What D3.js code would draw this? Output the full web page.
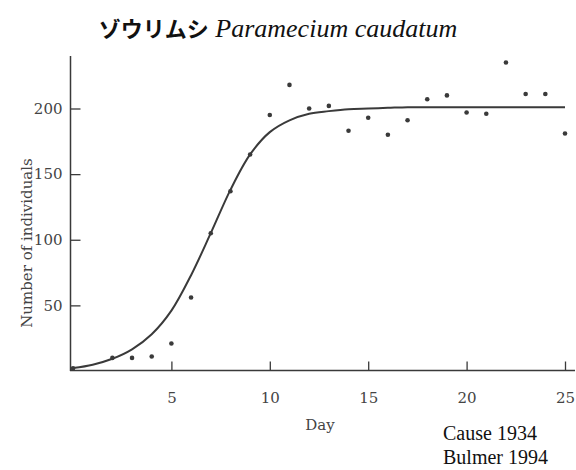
<!DOCTYPE html>
<html>
<head>
<meta charset="utf-8">
<script src="https://cdn.jsdelivr.net/npm/d3@7"></script>
<style>
  body { margin: 0; background: #fff; }
  svg { display: block; }
</style>
</head>
<body>
<svg width="576" height="470"></svg>
<script>
// observed counts (Gause 1934)
const obsDays = [0, 2, 3, 4, 5, 6, 7, 8, 9, 10, 11, 12, 13, 14, 15, 16, 17, 18, 19, 20, 21, 22, 23, 24, 25];
const obsCounts = [2, 10, 10, 11, 21, 56, 105, 137, 165, 195, 218, 200, 202, 183, 193, 180, 191, 207, 210, 197, 196, 235, 211, 211, 181];

// fitted logistic curve
const fitDays = [0, 1, 2, 3, 4, 5, 6, 7, 8, 9, 10, 11, 12, 13, 14, 15, 16, 17, 18, 19, 20, 21, 22, 23, 24, 25];
const fitCounts = [2.2, 4.8, 9.3, 16.5, 28, 46, 73, 105, 138, 165, 182, 191, 196, 198, 199.5, 200, 200.5, 201, 201, 201, 201, 201, 201, 201, 201, 201];

const xTicks = [5, 10, 15, 20, 25];
const yTicks = [50, 100, 150, 200];

const ink = '#3a3a3a';
const serif = '"DejaVu Serif", serif';

const svg = d3.select('svg');

const x = d3.scaleLinear().domain([0, 25]).range([73, 565]);
const y = d3.scaleLinear().domain([0, 200]).range([371, 108.5]);

// title
const title = svg.append('text')
    .attr('x', 278)
    .attr('y', 37)
    .attr('text-anchor', 'middle')
    .attr('fill', '#111');
title.append('tspan')
    .attr('font-family', '"Noto Sans CJK JP", sans-serif')
    .attr('font-weight', 'bold')
    .attr('font-size', 22)
    .text('ゾウリムシ');
title.append('tspan')
    .attr('font-family', '"Liberation Serif", serif')
    .attr('font-style', 'italic')
    .attr('font-size', 26)
    .text(' Paramecium caudatum');

// axes
const xAxis = svg.append('g')
    .attr('transform', 'translate(0,370.5)')
    .call(d3.axisBottom(x).tickValues(xTicks).tickSize(-9).tickPadding(22));

const yAxis = svg.append('g')
    .attr('transform', 'translate(70.5,0)')
    .call(d3.axisLeft(y).tickValues(yTicks).tickSize(-10).tickPadding(8));

[xAxis, yAxis].forEach(g => {
    g.select('.domain').remove();
    g.selectAll('line').attr('stroke', ink).attr('stroke-width', 1.3);
    g.selectAll('text')
        .attr('font-family', serif)
        .attr('font-size', 15)
        .attr('fill', '#444');
});

svg.append('line')
    .attr('x1', 70.5).attr('x2', 70.5)
    .attr('y1', 56).attr('y2', 371)
    .attr('stroke', ink).attr('stroke-width', 1.5);
svg.append('line')
    .attr('x1', 70).attr('x2', 575)
    .attr('y1', 370.5).attr('y2', 370.5)
    .attr('stroke', ink).attr('stroke-width', 1.5);

// axis titles
svg.append('text')
    .attr('x', 320)
    .attr('y', 430)
    .attr('text-anchor', 'middle')
    .attr('font-family', serif)
    .attr('font-size', 15)
    .attr('fill', '#444')
    .text('Day');

svg.append('text')
    .attr('transform', 'translate(32,243) rotate(-90)')
    .attr('text-anchor', 'middle')
    .attr('font-family', serif)
    .attr('font-size', 15)
    .attr('fill', '#444')
    .text('Number of individuals');

// fitted curve
const line = d3.line()
    .x((d, i) => x(fitDays[i]))
    .y(d => y(d))
    .curve(d3.curveCatmullRom.alpha(0.5));

svg.append('path')
    .datum(fitCounts)
    .attr('d', line)
    .attr('fill', 'none')
    .attr('stroke', ink)
    .attr('stroke-width', 2);

// observations
svg.selectAll('.dot')
    .data(obsCounts)
    .enter()
    .append('circle')
    .classed('dot', true)
    .attr('cx', (d, i) => x(obsDays[i]))
    .attr('cy', d => y(d))
    .attr('r', 2.3)
    .attr('fill', ink);

// source note
const note = svg.append('text')
    .attr('font-family', '"Liberation Serif", serif')
    .attr('font-size', 20)
    .attr('fill', '#111');
note.append('tspan').attr('x', 443).attr('y', 440).text('Cause 1934');
note.append('tspan').attr('x', 443).attr('y', 464).text('Bulmer 1994');
</script>
</body>
</html>
